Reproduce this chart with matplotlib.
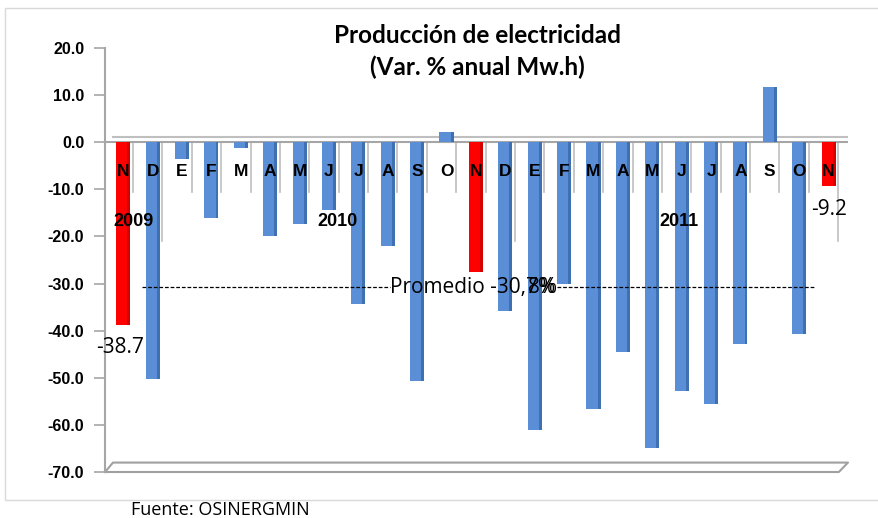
import matplotlib
matplotlib.use("Agg")
import matplotlib.pyplot as plt
from matplotlib.patches import Rectangle

# monthly var. % anual (Mw.h), Nov 2009 - Nov 2011
months = ['N', 'D', 'E', 'F', 'M', 'A', 'M', 'J', 'J', 'A', 'S', 'O',
          'N', 'D', 'E', 'F', 'M', 'A', 'M', 'J', 'J', 'A', 'S', 'O', 'N']
values = [-38.7, -50.3, -3.5, -16.0, -1.2, -19.9, -17.3, -14.4, -34.4, -22.0, -50.7, 2.2,
          -27.6, -35.8, -61.0, -30.1, -56.7, -44.6, -64.8, -52.7, -55.6, -42.9, 11.8, -40.7, -9.2]
highlight = [0, 12, 24]          # noviembres en rojo
years = ['2009', '2010', '2011']
year_pos = [0.35, 7.3, 18.9]
year_breaks = [1, 13, 24]
promedio = -30.8

plt.rcParams['font.family'] = ['Liberation Sans', 'DejaVu Sans']

fig = plt.figure(figsize=(8.79, 5.18), dpi=100)
ax = fig.add_axes([0.1195, 0.0888, 0.8452, 0.8185])

blue, blue_dk = '#5a8fd8', '#3f70b2'
red, red_dk = '#ff0000', '#d40000'
w = 0.48
x = list(range(len(values)))
colors = [red if i in highlight else blue for i in x]
sides = [red_dk if i in highlight else blue_dk for i in x]
ax.bar(x, values, width=w, color=colors, zorder=3)
ax.bar([i + w / 2 - 0.05 for i in x], values, width=0.1, color=sides, zorder=3)

ax.set_xlim(-0.62, 24.66)
ax.set_ylim(-70, 20)
ax.set_yticks(range(-70, 21, 10))
ax.set_yticklabels([f'{t:.1f}' for t in range(-70, 21, 10)], fontsize=11.5, fontweight='bold')
ax.set_xticks([])
for s in ['top', 'right', 'bottom']:
    ax.spines[s].set_visible(False)
ax.spines['left'].set_color('#a6a6a6')
ax.spines['left'].set_linewidth(1.5)
ax.tick_params(axis='y', color='#a6a6a6', length=8, width=1.2, pad=7)

# zero plane and floor
ax.axhline(0, color='#a6a6a6', lw=1.5, zorder=2)
ax.plot([-0.35, 24.66], [1.2, 1.2], color='#bfbfbf', lw=1.5, zorder=2)
ax.plot([-0.62, -0.35, 24.66, 24.35, -0.62], [-70, -68, -68, -70, -70],
        color='#a0a0a0', lw=1.5, clip_on=False)

# category separators
for i in x:
    low = -21 if i in year_breaks else -10.5
    ax.plot([i + 0.33, i + 0.33], [0, low], color='#bfbfbf', lw=1.2, zorder=1)

for i, m in enumerate(months):
    ax.text(i, -6.3, m, ha='center', va='center', fontsize=12.5, fontweight='bold', zorder=4)
for yx, yl in zip(year_pos, years):
    ax.text(yx, -16.8, yl, ha='center', va='center', fontsize=13, fontweight='bold', zorder=4)

# promedio
ax.plot([0.65, 9.08], [promedio, promedio], color='black', lw=0.9, dashes=(3, 1.5), zorder=4)
t1 = ax.text(9.08, promedio, 'Promedio -30,7%', family='Open Sans', fontsize=15,
             ha='left', va='center', zorder=5)
fig.canvas.draw()
bb = t1.get_window_extent().transformed(ax.transData.inverted())
ax.text(bb.x1 + 0.07, promedio, '8%', family='Open Sans', fontsize=15,
        ha='right', va='center', zorder=5)
ax.plot([bb.x1 + 0.05, 23.55], [promedio, promedio], color='black', lw=0.9, dashes=(3, 1.5), zorder=4)

ax.text(-0.1, -43.6, '-38.7', family='Open Sans', fontsize=15, ha='center', va='center', zorder=5)
ax.text(24.0, -14.2, '-9.2', family='Open Sans', fontsize=15, ha='center', va='center', zorder=5)

fig.text(0.543, 0.900, 'Producción de electricidad\n(Var. % anual Mw.h)', family='Lato',
         fontsize=17.5, fontweight='bold', ha='center', va='center', linespacing=1.42)
fig.text(0.149, 0.016, 'Fuente: OSINERGMIN', family='Open Sans', fontsize=13, ha='left', va='center')

fig.patches.append(Rectangle((0.006, 0.035), 1.0, 0.95, transform=fig.transFigure,
                             fill=False, edgecolor='#d9d9d9', lw=1))

fig.savefig('out.png', dpi=100)
